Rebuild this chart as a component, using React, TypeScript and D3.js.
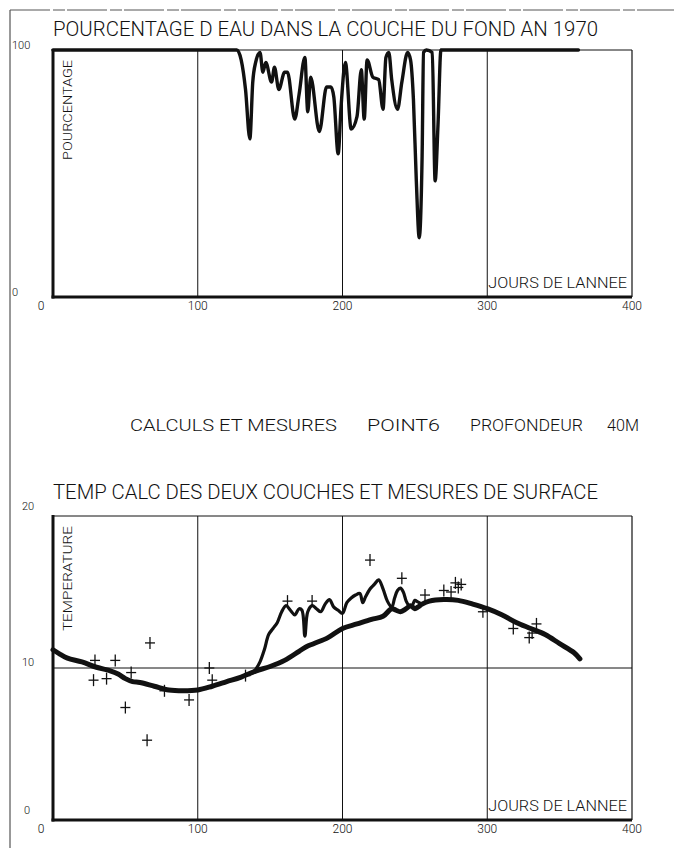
import React from "react";
import * as d3 from "d3";

// ---------- data ----------
const xTicks = [0, 100, 200, 300, 400];

// Top chart: percentage of water in bottom layer (1970)
const topDays = [0, 127, 130, 133, 136, 138, 140, 143, 145, 147, 151, 153, 156, 160, 162, 167, 170, 174, 176, 178, 184, 189, 192, 194, 197, 199, 202, 206, 210, 213, 215, 217, 221, 225, 228, 230, 232, 234, 238, 241, 245, 247, 249, 251, 253, 255, 256, 258, 262, 264, 266, 268, 363];
const topPct = [100, 100, 96, 84, 64, 87, 95, 99, 91, 95, 87, 93, 84, 91, 91, 72, 82, 97, 75, 89, 67, 85, 85, 81, 58, 77, 95, 68, 73, 92, 72, 96, 89, 88, 76, 97, 99, 88, 76, 87, 99, 96, 80, 47, 24, 57, 99, 100, 99, 47, 70, 100, 100];

// Bottom chart: computed temperature of lower layer
const lowerDays = [0, 5, 10, 20, 30, 40, 45, 50, 55, 60, 70, 80, 90, 100, 110, 120, 130, 140, 150, 160, 170, 175, 180, 190, 200, 210, 220, 228, 234, 237, 240, 244, 247, 250, 252, 255, 260, 270, 280, 290, 300, 310, 320, 330, 340, 350, 360, 364];
const lowerTemp = [11.2, 10.9, 10.65, 10.4, 10.05, 9.8, 9.6, 9.3, 9.1, 9.05, 8.8, 8.55, 8.5, 8.55, 8.8, 9.1, 9.4, 9.8, 10.1, 10.5, 11.1, 11.4, 11.6, 12.0, 12.6, 12.9, 13.2, 13.4, 13.9, 13.8, 13.7, 13.9, 14.1, 13.9, 14.0, 14.2, 14.4, 14.5, 14.45, 14.2, 13.9, 13.5, 13.0, 12.6, 12.2, 11.6, 11.0, 10.6];

// Bottom chart: computed temperature of upper (surface) layer where it departs from the lower one
const upperDays = [138, 140, 143, 146, 149, 152, 155, 158, 161, 164, 167, 170, 172, 174, 176, 179, 182, 185, 188, 191, 194, 197, 200, 203, 206, 209, 212, 214, 216, 219, 222, 225, 228, 231, 234, 236, 238, 240, 242, 244, 246, 248, 250, 252, 255];
const upperTemp = [9.7, 9.9, 10.4, 11.2, 12.2, 12.6, 13.0, 13.7, 14.1, 13.8, 13.5, 13.9, 13.8, 12.1, 13.7, 14.1, 13.9, 13.7, 14.2, 14.5, 14.0, 13.8, 13.6, 14.3, 14.6, 14.8, 14.9, 14.3, 14.7, 15.2, 15.5, 15.8, 15.2, 14.4, 14.0, 14.6, 15.1, 15.25, 15.0, 14.4, 14.1, 14.1, 14.45, 14.35, 14.2];

// Surface measurements (+)
const measDays = [29, 28, 37, 43, 54, 50, 67, 65, 77, 94, 108, 110, 133, 162, 179, 219, 241, 257, 270, 275, 278, 280, 282, 297, 318, 329, 331, 334];
const measTemp = [10.5, 9.2, 9.3, 10.5, 9.7, 7.4, 11.65, 5.25, 8.5, 7.9, 10.0, 9.2, 9.5, 14.4, 14.4, 17.1, 15.9, 14.8, 15.1, 15.0, 15.6, 15.3, 15.5, 13.7, 12.6, 12.0, 12.3, 12.9];

const topTitle = "POURCENTAGE D EAU DANS LA COUCHE DU FOND AN 1970";
const midTitle = ["CALCULS ET MESURES", "POINT6", "PROFONDEUR", "40M"];
const botTitle = "TEMP CALC DES DEUX COUCHES ET MESURES DE SURFACE";

const FONT = "Roboto, 'Open Sans', 'DejaVu Sans', sans-serif";
const INK = "#111";

function Frame({ x, y, top, bottom, yTickLabels, yLabel, yLabelLen, hLine }: any) {
  const [x0, x1] = x.range();
  return (
    <g>
      {[100, 200, 300].map((d) => (
        <line key={d} x1={x(d)} x2={x(d)} y1={top} y2={bottom} stroke={INK} strokeWidth={1} />
      ))}
      {hLine != null && (
        <line x1={x0} x2={x1} y1={y(hLine)} y2={y(hLine)} stroke={INK} strokeWidth={1} />
      )}
      <line x1={x0} x2={x1} y1={top} y2={top} stroke={INK} strokeWidth={1} />
      <line x1={x1} x2={x1} y1={top} y2={bottom} stroke={INK} strokeWidth={1.2} />
      <line x1={x0} x2={x0} y1={top - 1} y2={bottom + 1.5} stroke={INK} strokeWidth={3} />
      <line x1={x0 - 1.5} x2={x1} y1={bottom} y2={bottom} stroke={INK} strokeWidth={3} />
      {xTicks.map((d) => (
        <text key={d} x={d === 0 ? x(d) - 12 : x(d)} y={bottom + 13} fontSize={12} fontFamily={FONT} fontWeight={300} textAnchor="middle" fill={INK}>
          {d}
        </text>
      ))}
      {yTickLabels.map((t: any) => (
        <text key={t.label} x={t.x} y={t.y} fontSize={11} fontFamily={FONT} fontWeight={300} fill={INK}>
          {t.label}
        </text>
      ))}
      <text
        transform={`translate(${x0 + 19},${top + 10}) rotate(-90)`}
        textAnchor="end"
        fontSize={12}
        fontFamily={FONT}
        fontWeight={300}
        textLength={yLabelLen}
        lengthAdjust="spacingAndGlyphs"
        fill={INK}
      >
        {yLabel}
      </text>
      <text x={x(300) + 1} y={bottom - 9} fontSize={15} fontFamily={FONT} fontWeight={300} textLength={x1 - x(300) - 6} lengthAdjust="spacingAndGlyphs" fill={INK}>
        JOURS DE LANNEE
      </text>
    </g>
  );
}

export default function App() {
  const W = 674;
  const H = 848;
  const left = 53;
  const right = 632;

  const x = d3.scaleLinear().domain([0, 400]).range([left, right]);

  // top chart
  const tTop = 50;
  const tBot = 297;
  const yTop = d3.scaleLinear().domain([0, 100]).range([tBot, tTop]);
  const topLine = d3
    .line<number>()
    .x((d, i) => x(topDays[i]))
    .y((d) => yTop(d))
    .curve(d3.curveMonotoneX);

  // bottom chart
  const bTop = 516;
  const bBot = 820;
  const yBot = d3.scaleLinear().domain([0, 20]).range([bBot, bTop]);
  const lowerLine = d3
    .line<number>()
    .x((d, i) => x(lowerDays[i]))
    .y((d) => yBot(d))
    .curve(d3.curveCatmullRom);
  const upperLine = d3
    .line<number>()
    .x((d, i) => x(upperDays[i]))
    .y((d) => yBot(d))
    .curve(d3.curveCatmullRom);

  return (
    <svg width={W} height={H} style={{ position: "absolute", left: 0, top: 0, background: "#fff" }}>
      <rect width={W} height={H} fill="#fff" />
      <line x1={10} x2={10} y1={10} y2={H} stroke="#333" strokeWidth={1} />
      <line x1={10} x2={W} y1={10} y2={10} stroke="#555" strokeWidth={1} strokeDasharray="40 3 12 2" />

      {/* ---- top chart ---- */}
      <text x={left} y={36} fontSize={20} fontFamily={FONT} fontWeight={300} textLength={545} lengthAdjust="spacingAndGlyphs" fill={INK}>
        {topTitle}
      </text>
      <Frame
        x={x}
        y={yTop}
        top={tTop}
        bottom={tBot}
        yTickLabels={[
          { label: "100", x: 12, y: tTop - 1 },
          { label: "0", x: 12, y: tBot - 1 },
        ]}
        yLabel="POURCENTAGE"
        yLabelLen={100}
      />
      <path d={topLine(topPct) || ""} fill="none" stroke={INK} strokeWidth={3.4} strokeLinejoin="round" strokeLinecap="round" />

      {/* ---- middle caption ---- */}
      <g fontFamily={FONT} fontWeight={300} fontSize={17} fill={INK}>
        <text x={130} y={431} textLength={207} lengthAdjust="spacingAndGlyphs">{midTitle[0]}</text>
        <text x={367} y={431} textLength={73} lengthAdjust="spacingAndGlyphs">{midTitle[1]}</text>
        <text x={470} y={431} textLength={113} lengthAdjust="spacingAndGlyphs">{midTitle[2]}</text>
        <text x={607} y={431} textLength={32} lengthAdjust="spacingAndGlyphs">{midTitle[3]}</text>
      </g>

      {/* ---- bottom chart ---- */}
      <text x={left} y={499} fontSize={20} fontFamily={FONT} fontWeight={300} textLength={545} lengthAdjust="spacingAndGlyphs" fill={INK}>
        {botTitle}
      </text>
      <Frame
        x={x}
        y={yBot}
        top={bTop}
        bottom={bBot}
        hLine={10}
        yTickLabels={[
          { label: "20", x: 22, y: bTop - 6 },
          { label: "10", x: 22, y: yBot(10) - 2 },
          { label: "0", x: 24, y: bBot - 6 },
        ]}
        yLabel="TEMPERATURE"
        yLabelLen={105}
      />
      <path d={lowerLine(lowerTemp) || ""} fill="none" stroke={INK} strokeWidth={5} strokeLinejoin="round" strokeLinecap="round" />
      <path d={upperLine(upperTemp) || ""} fill="none" stroke={INK} strokeWidth={3.2} strokeLinejoin="round" strokeLinecap="round" />
      {measDays.map((d, i) => {
        const cx = x(d);
        const cy = yBot(measTemp[i]);
        return (
          <g key={i} stroke={INK} strokeWidth={1.3}>
            <line x1={cx - 5} x2={cx + 5} y1={cy} y2={cy} />
            <line x1={cx} x2={cx} y1={cy - 6} y2={cy + 6} />
          </g>
        );
      })}
    </svg>
  );
}
